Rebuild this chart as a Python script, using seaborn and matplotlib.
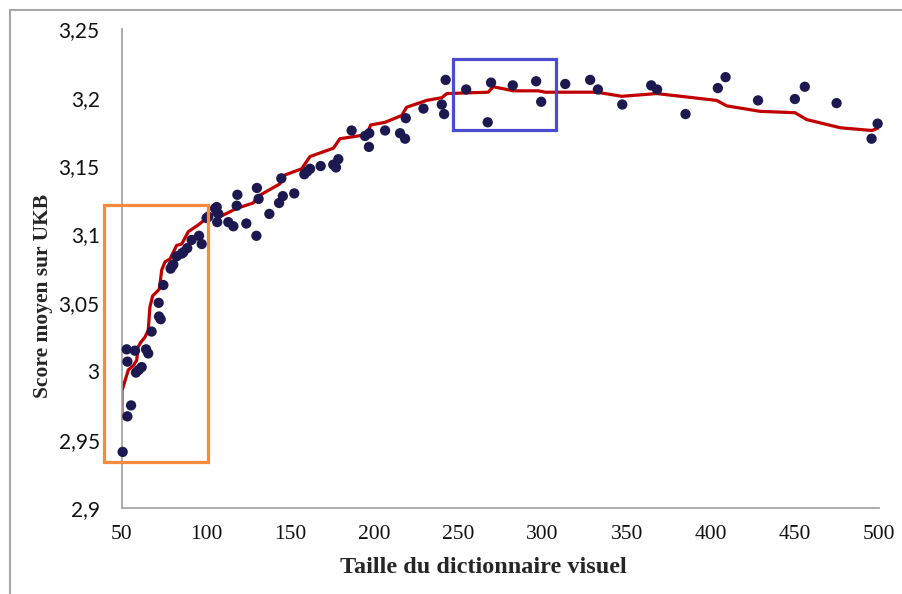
import seaborn as sns
import matplotlib.pyplot as plt
import matplotlib.lines as mlines
from matplotlib.patches import Rectangle

# scores moyens mesures (points)
dict_size = [50.4, 53.2, 55.4, 53.2, 52.8, 57.7, 64.3, 65.6, 58.3, 60.0, 61.7,
             67.6, 72.0, 73.0, 71.8, 74.6, 78.9, 79.8, 80.5, 82.5, 85.5, 86.5,
             88.8, 91.4, 95.8, 97.4, 100.3, 101.3, 105.3, 106.3, 107.3, 106.6,
             113.2, 116.2, 118.2, 118.6, 123.9, 129.9, 130.2, 131.2, 137.6,
             143.4, 145.6, 144.7, 152.4, 158.4, 160.0, 161.8, 168.1, 175.6,
             177.2, 178.6, 186.5, 194.5, 197.0, 196.8, 206.4, 215.3, 218.3,
             218.7, 229.2, 240.1, 241.5, 242.4, 254.6, 269.4, 267.4, 282.3,
             296.2, 299.2, 313.5, 328.3, 332.9, 347.4, 364.6, 368.1, 385.0,
             404.2, 408.8, 428.1, 450.0, 455.9, 474.8, 495.6, 499.2]
score = [2.941, 2.967, 2.975, 3.007, 3.016, 3.015, 3.016, 3.013, 2.999, 3.001,
         3.003, 3.029, 3.040, 3.038, 3.050, 3.063, 3.075, 3.077, 3.078, 3.084,
         3.086, 3.087, 3.090, 3.096, 3.099, 3.093, 3.112, 3.113, 3.119, 3.120,
         3.115, 3.109, 3.109, 3.106, 3.121, 3.129, 3.108, 3.099, 3.134, 3.126,
         3.115, 3.123, 3.128, 3.141, 3.130, 3.144, 3.146, 3.148, 3.150, 3.151,
         3.149, 3.155, 3.176, 3.172, 3.174, 3.164, 3.176, 3.174, 3.170, 3.185,
         3.192, 3.195, 3.188, 3.213, 3.206, 3.211, 3.182, 3.209, 3.212, 3.197,
         3.210, 3.213, 3.206, 3.195, 3.209, 3.206, 3.188, 3.207, 3.215, 3.198,
         3.199, 3.208, 3.196, 3.170, 3.181]

# courbe lissee (rouge)
trend_x = [50, 50, 53.8, 56.7, 58.7, 59.7, 61.1, 63.7, 65.6, 66.6, 68.2, 72.2,
           73.6, 75.6, 78.5, 82.5, 85.5, 89.4, 95.4, 98.4, 102.3, 105.3, 108.3,
           118.1, 128.0, 131.0, 143.9, 145.9, 156.8, 161.8, 175.6, 179.6, 195.5,
           197.8, 206.4, 216.3, 219.2, 231.1, 240.1, 243.1, 267.7, 270.7, 282.6,
           297.5, 301.5, 332.2, 347.1, 367.9, 403.5, 409.5, 429.3, 450.1, 457.0,
           477.0, 495.8, 499.8]
trend_y = [2.965, 2.986, 3.001, 3.004, 3.008, 3.018, 3.021, 3.025, 3.030, 3.047,
           3.055, 3.060, 3.074, 3.080, 3.082, 3.092, 3.093, 3.102, 3.107, 3.110,
           3.113, 3.116, 3.113, 3.119, 3.123, 3.128, 3.137, 3.143, 3.148, 3.157,
           3.163, 3.170, 3.173, 3.180, 3.182, 3.187, 3.193, 3.198, 3.200, 3.203,
           3.204, 3.208, 3.205, 3.205, 3.204, 3.204, 3.201, 3.203, 3.198, 3.194,
           3.190, 3.189, 3.184, 3.178, 3.176, 3.178]

x_ticks = [50, 100, 150, 200, 250, 300, 350, 400, 450, 500]
y_ticks = [2.9, 2.95, 3.0, 3.05, 3.1, 3.15, 3.2, 3.25]
y_tick_labels = ["2,9", "2,95", "3", "3,05", "3,1", "3,15", "3,2", "3,25"]

sns.set_style("white")
gray = "#A6A6A6"

fig = plt.figure(figsize=(9.03, 5.94), dpi=100)
ax = fig.add_axes([0.1351, 0.1448, 0.8383, 0.8059])

sns.lineplot(x=trend_x, y=trend_y, sort=False, estimator=None, color="#C00000",
             linewidth=2.3, ax=ax, zorder=2)
sns.scatterplot(x=dict_size, y=score, color="#1E1850", s=55, edgecolor="none",
                ax=ax, zorder=3, clip_on=False)

# cadres de mise en evidence
ax.add_patch(Rectangle((39.3, 2.9335), 101.1 - 39.3, 3.1214 - 2.9335, fill=False,
                       edgecolor="#F78A3C", linewidth=2.3, clip_on=False, zorder=4))
ax.add_patch(Rectangle((247, 3.1763), 308 - 247, 3.228 - 3.1763, fill=False,
                       edgecolor="#4B4BD0", linewidth=2.3, clip_on=False, zorder=4))

ax.set_xlim(50, 500)
ax.set_ylim(2.9, 3.25)
ax.set_xticks(x_ticks)
ax.set_xticklabels([str(v) for v in x_ticks], family="Liberation Serif", fontsize=15.5)
ax.set_yticks(y_ticks)
ax.set_yticklabels(y_tick_labels, family="Lato", fontsize=15)
ax.tick_params(axis="both", direction="out", length=7, width=1.3, color=gray,
               labelcolor="#111111")
ax.tick_params(axis="y", pad=9)
ax.tick_params(axis="x", pad=5)

for side in ["top", "right"]:
    ax.spines[side].set_visible(False)
for side in ["left", "bottom"]:
    ax.spines[side].set_color(gray)
    ax.spines[side].set_linewidth(1.3)

ax.set_xlabel("Taille du dictionnaire visuel", family="Liberation Serif",
              fontweight="bold", fontsize=17.5)
ax.set_ylabel("Score moyen sur UKB", family="Liberation Serif",
              fontweight="bold", fontsize=15.5)
ax.xaxis.set_label_coords(0.477, -0.125)
ax.xaxis.label.set_va("center")
ax.yaxis.set_label_coords(-0.105, 0.442)
ax.yaxis.label.set_va("center")

# bordure du graphique (coupee a droite et en bas)
fig.add_artist(mlines.Line2D([0.0111, 1.0], [0.984, 0.984], color=gray, linewidth=1.5))
fig.add_artist(mlines.Line2D([0.0111, 0.0111], [0.0, 0.984], color=gray, linewidth=1.5))

plt.savefig("out.png", dpi=100)
